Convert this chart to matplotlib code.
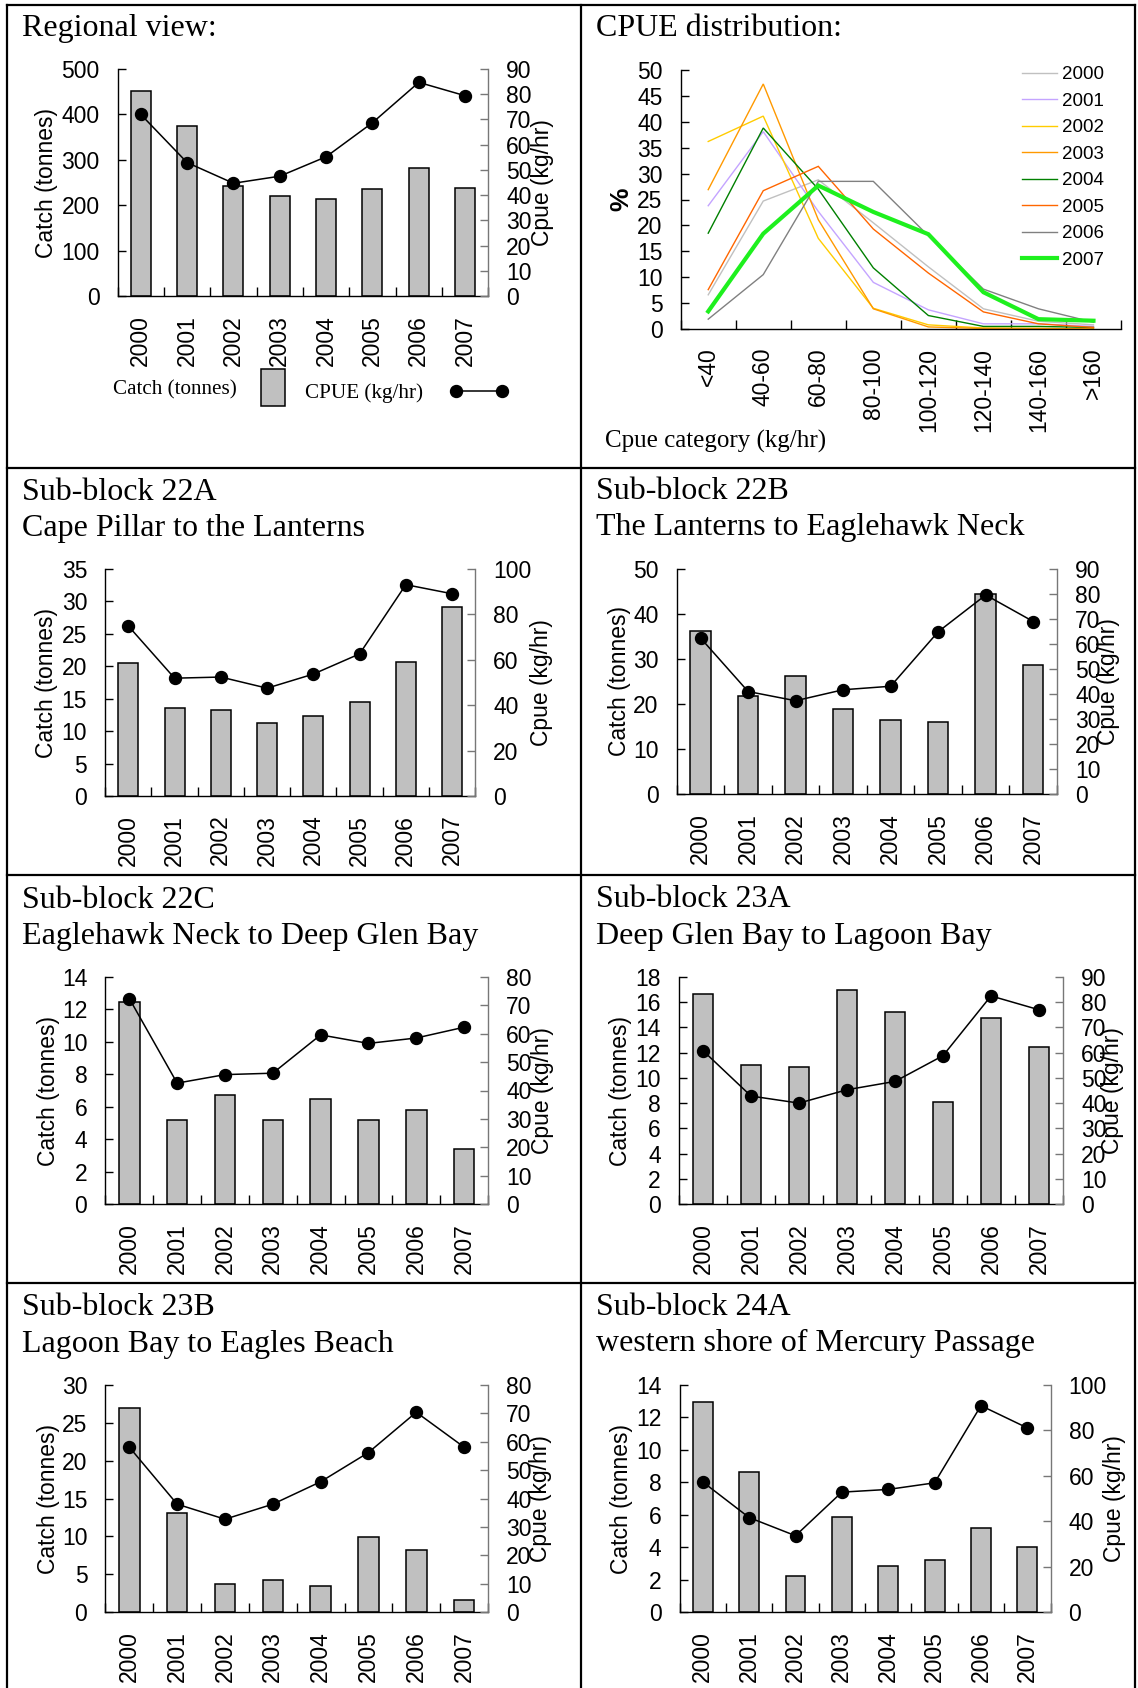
import numpy as np
import matplotlib
matplotlib.use("Agg")
import matplotlib.pyplot as plt
from matplotlib.lines import Line2D
from matplotlib.patches import Rectangle
from matplotlib.legend_handler import HandlerPatch, HandlerLine2D

plt.rcParams['font.family'] = ['Liberation Sans', 'DejaVu Sans']

# ---------------------------------------------------------------- data
years = ["2000", "2001", "2002", "2003", "2004", "2005", "2006", "2007"]

regional_catch = [451, 374, 242, 220, 214, 235, 281, 238]
regional_cpue = [72.0, 52.9, 44.7, 47.5, 55.2, 68.7, 84.7, 79.4]

cpue_categories = ["<40", "40-60", "60-80", "80-100", "100-120", "120-140", "140-160", ">160"]
dist_2000 = [6.6, 24.7, 28.8, 20.5, 12.0, 3.9, 1.5, 0.8]
dist_2001 = [23.8, 38.1, 22.7, 9.0, 3.7, 1.0, 1.0, 0.5]
dist_2002 = [36.2, 41.1, 17.5, 4.0, 0.8, 0.2, 0.1, 0.0]
dist_2003 = [26.9, 47.3, 21.1, 3.9, 0.4, 0.1, 0.1, 0.0]
dist_2004 = [18.5, 38.8, 27.0, 11.8, 2.6, 0.5, 0.5, 0.3]
dist_2005 = [7.6, 26.7, 31.4, 19.3, 10.8, 3.3, 1.0, 0.3]
dist_2006 = [1.9, 10.5, 28.5, 28.5, 18.0, 7.7, 3.9, 1.3]
dist_2007 = [3.4, 18.4, 27.7, 22.6, 18.3, 7.1, 1.9, 1.6]

sb22a_catch = [20.5, 13.5, 13.3, 11.3, 12.35, 14.45, 20.6, 29.1]
sb22a_cpue = [74.9, 51.9, 52.4, 47.5, 53.7, 62.6, 93.1, 89.1]
sb22b_catch = [36.3, 21.8, 26.3, 19.0, 16.4, 15.9, 44.4, 28.75]
sb22b_cpue = [62.4, 41.0, 37.3, 41.7, 43.1, 64.9, 79.6, 69.0]
sb22c_catch = [12.48, 5.16, 6.70, 5.16, 6.48, 5.16, 5.82, 3.39]
sb22c_cpue = [72.4, 42.6, 45.6, 46.1, 59.6, 56.6, 58.5, 62.3]
sb23a_catch = [16.68, 11.05, 10.86, 16.94, 15.25, 8.12, 14.72, 12.45]
sb23a_cpue = [60.8, 42.8, 40.0, 45.3, 48.6, 58.8, 82.5, 77.0]
sb23b_catch = [26.9, 13.1, 3.65, 4.18, 3.48, 9.85, 8.18, 1.54]
sb23b_cpue = [58.1, 38.0, 32.7, 38.0, 45.9, 56.2, 70.4, 58.1]
sb24a_catch = [12.95, 8.64, 2.22, 5.87, 2.85, 3.18, 5.15, 4.02]
sb24a_cpue = [57.3, 41.6, 33.6, 52.8, 54.0, 56.9, 90.9, 81.1]

# ---------------------------------------------------------------- layout
W, H = 1138, 1688
DPI = 100
PT = DPI / 72.0

SERIF = 'Liberation Serif'
SANS = 'Liberation Sans'
TICK_FS = 16.5
TITLE_FS = 23
MARKER = 8.6

fig = plt.figure(figsize=(W / DPI, H / DPI), dpi=DPI)
fig.patch.set_facecolor('white')


def px_axes(x0, x1, ytop, ybot):
    return fig.add_axes([x0 / W, 1 - ybot / H, (x1 - x0) / W, (ybot - ytop) / H])


def rule(xa, ya, xb, yb):
    fig.add_artist(Line2D([xa / W, xb / W], [1 - ya / H, 1 - yb / H],
                          transform=fig.transFigure, color='black', lw=1.6))


def title(x, y, text):
    fig.text(x / W, 1 - y / H, text, family=SERIF, fontsize=TITLE_FS,
             ha='left', va='baseline')


# panel frame
rule(7, 5, 1135, 5)
rule(7, 5, 7, H)
rule(581, 5, 581, H)
rule(1135, 5, 1135, H)
for yy in (468, 875, 1283):
    rule(7, yy, 1135, yy)


def style_category_x(ax, labels):
    n = len(labels)
    ax.set_xlim(-0.5, n - 0.5)
    ax.set_xticks(np.arange(n))
    ax.set_xticklabels(labels, rotation=90, fontsize=TICK_FS, family=SANS)
    ax.set_xticks(np.arange(n + 1) - 0.5, minor=True)
    ax.tick_params(axis='x', which='major', length=0, pad=13.5)
    ax.tick_params(axis='x', which='minor', direction='in', length=6.5, width=1.0)
    for lab in ax.get_xticklabels():
        lab.set_ha('center')
        lab.set_va('top')


def catch_panel(box, catch, cpue, cmax, cstep, pmax, pstep, loff, roff):
    x0, x1, yt, yb = box
    wpx = x1 - x0
    ax = px_axes(x0, x1, yt, yb)
    xs = np.arange(len(years))
    bars = ax.bar(xs, catch, width=0.43, color='#c0c0c0', edgecolor='black',
                  linewidth=1.1, zorder=2)
    ax.set_ylim(0, cmax)
    ax.set_yticks(np.arange(0, cmax + cstep / 2, cstep))
    ax.tick_params(axis='y', direction='in', length=6, width=1.0, pad=13,
                   labelsize=TICK_FS)
    style_category_x(ax, years)
    for s in ('top', 'right'):
        ax.spines[s].set_visible(False)
    ax.spines['left'].set_linewidth(1.0)
    ax.spines['bottom'].set_linewidth(1.0)
    ax.set_ylabel('Catch (tonnes)', fontsize=TICK_FS, family=SANS)
    ax.yaxis.set_label_coords(loff / wpx, 0.5)
    ax.yaxis.label.set_va('center')

    ax2 = ax.twinx()
    line, = ax2.plot(xs, cpue, color='black', lw=1.1, marker='o',
                     markersize=MARKER, markerfacecolor='black',
                     markeredgecolor='black', zorder=3)
    ax2.set_ylim(0, pmax)
    ax2.set_yticks(np.arange(0, pmax + pstep / 2, pstep))
    ax2.tick_params(axis='y', direction='in', length=6, width=1.0, pad=13,
                    labelsize=TICK_FS, color='#777777')
    for s in ('top', 'left', 'bottom'):
        ax2.spines[s].set_visible(False)
    ax2.spines['right'].set_color('#777777')
    ax2.spines['right'].set_linewidth(1.0)
    ax2.set_ylabel('Cpue (kg/hr)', fontsize=TICK_FS, family=SANS)
    ax2.yaxis.set_label_coords(1 + roff / wpx, 0.5)
    ax2.yaxis.label.set_va('center')
    ax2.yaxis.label.set_rotation(90)
    return ax, ax2, bars, line


# ---------------------------------------------------------------- regional view
title(22, 36, "Regional view:")
ax_r, ax_r2, bars_r, line_r = catch_panel((117.6, 488.3, 69, 296),
                                          regional_catch, regional_cpue,
                                          500, 100, 90, 10, -71, 54)

LEG_FS = 15.2
leg_px = LEG_FS * PT


def tall_box(legend, orig_handle, xdescent, ydescent, width, height, fontsize):
    h = 37 / PT
    return Rectangle((-xdescent, -ydescent + height / 2 - h / 2), width, h)


leg1 = ax_r2.legend([bars_r.patches[0]], ['Catch (tonnes)'],
                    handler_map={Rectangle: HandlerPatch(patch_func=tall_box)},
                    loc='center left', bbox_to_anchor=(113 / W, 1 - 390 / H),
                    bbox_transform=fig.transFigure, frameon=False,
                    borderpad=0, borderaxespad=0, markerfirst=False,
                    handlelength=24 / leg_px, handletextpad=24.6 / leg_px,
                    prop={'family': SERIF, 'size': LEG_FS})
ax_r2.add_artist(leg1)
ax_r2.legend([line_r], ['CPUE (kg/hr)'],
             handler_map={Line2D: HandlerLine2D(numpoints=2)},
             loc='center left', bbox_to_anchor=(305 / W, 1 - 393 / H),
             bbox_transform=fig.transFigure, frameon=False,
             borderpad=0, borderaxespad=0, markerfirst=False,
             handlelength=58.7 / leg_px, handletextpad=26.7 / leg_px,
             prop={'family': SERIF, 'size': LEG_FS})

# ---------------------------------------------------------------- CPUE distribution
title(596, 36, "CPUE distribution:")
d0, d1, dt, db = 680.7, 1121, 70, 329
ax_d = px_axes(d0, d1, dt, db)
series = [
    ("2000", dist_2000, '#c0c0c0', 1.0),
    ("2001", dist_2001, '#c4a4ff', 1.0),
    ("2002", dist_2002, '#ffcc00', 1.0),
    ("2003", dist_2003, '#ff9900', 1.0),
    ("2004", dist_2004, '#008000', 1.0),
    ("2005", dist_2005, '#ff6600', 1.0),
    ("2006", dist_2006, '#808080', 1.0),
    ("2007", dist_2007, '#1ef01e', 3.0),
]
xc = np.arange(len(cpue_categories))
for name, vals, col, lw in series:
    ax_d.plot(xc, vals, color=col, lw=lw, label=name, solid_joinstyle='miter')
ax_d.set_ylim(0, 50)
ax_d.set_yticks(np.arange(0, 51, 5))
ax_d.tick_params(axis='y', direction='in', length=6, width=1.0, pad=13,
                 labelsize=TICK_FS)
style_category_x(ax_d, cpue_categories)
for s in ('top', 'right'):
    ax_d.spines[s].set_visible(False)
ax_d.spines['left'].set_linewidth(1.0)
ax_d.spines['bottom'].set_linewidth(1.0)
ax_d.set_ylabel('%', fontsize=19, family=SANS, fontweight='bold')
ax_d.yaxis.set_label_coords(-59 / (d1 - d0), 0.5)
ax_d.yaxis.label.set_va('center')
ax_d.set_xlabel('Cpue category (kg/hr)', fontsize=18, family=SERIF)
ax_d.xaxis.set_label_coords((605 - d0) / (d1 - d0), -(441.7 - db) / (db - dt))
ax_d.xaxis.label.set_ha('left')
ax_d.xaxis.label.set_va('center')

LFS = 13.5
lfs_px = LFS * PT
ax_d.legend(loc='upper left', bbox_to_anchor=(1022 / W, 1 - 66 / H),
            bbox_transform=fig.transFigure, frameon=False, borderpad=0,
            borderaxespad=0, handlelength=35 / lfs_px, handletextpad=5 / lfs_px,
            labelspacing=0.5, prop={'family': SANS, 'size': LFS})

# ---------------------------------------------------------------- sub-blocks
title(22, 500, "Sub-block 22A")
title(22, 536, "Cape Pillar to the Lanterns")
catch_panel((105.2, 475.2, 569, 796), sb22a_catch, sb22a_cpue,
            35, 5, 100, 20, -59, 66)

title(596, 499, "Sub-block 22B")
title(596, 535, "The Lanterns to Eaglehawk Neck")
catch_panel((676.8, 1057, 569, 794), sb22b_catch, sb22b_cpue,
            50, 10, 90, 10, -57, 52)

title(22, 908, "Sub-block 22C")
title(22, 944, "Eaglehawk Neck to Deep Glen Bay")
catch_panel((105.4, 488, 977, 1204), sb22c_catch, sb22c_cpue,
            14, 2, 80, 10, -57, 54)

title(596, 907, "Sub-block 23A")
title(596, 944, "Deep Glen Bay to Lagoon Bay")
catch_panel((679, 1063, 977, 1204), sb23a_catch, sb23a_cpue,
            18, 2, 90, 10, -58, 50)

title(22, 1315, "Sub-block 23B")
title(22, 1352, "Lagoon Bay to Eagles Beach")
catch_panel((105.4, 488, 1385, 1612), sb23b_catch, sb23b_cpue,
            30, 5, 80, 10, -57, 52)

title(596, 1315, "Sub-block 24A")
title(596, 1351, "western shore of Mercury Passage")
catch_panel((679.6, 1050.5, 1385, 1612), sb24a_catch, sb24a_cpue,
            14, 2, 100, 20, -58, 64)

fig.savefig("out.png", dpi=DPI, facecolor='white')
